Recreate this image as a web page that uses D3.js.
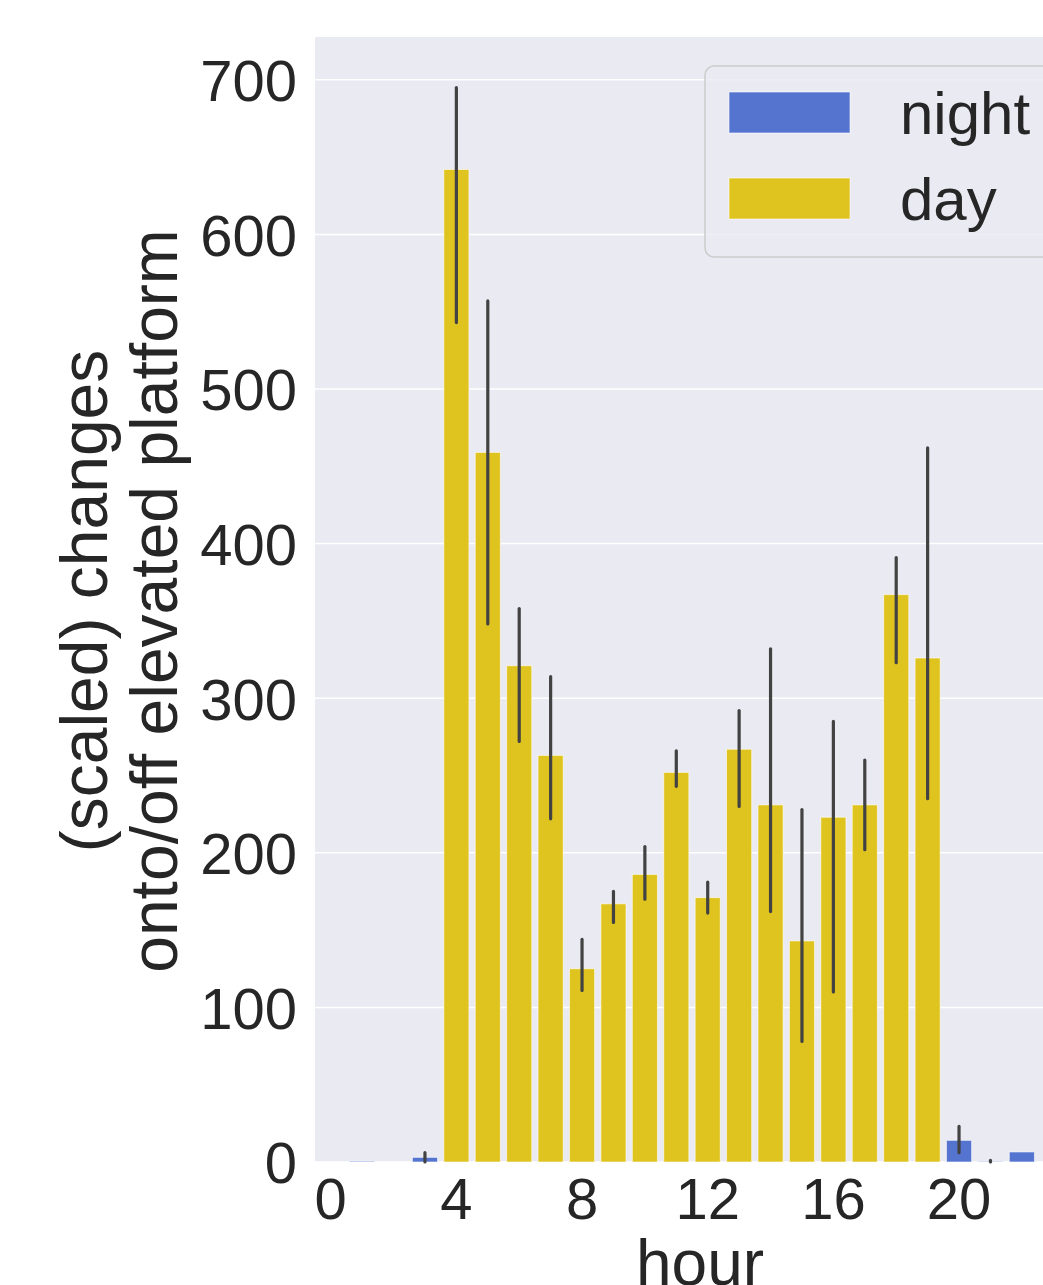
<!DOCTYPE html>
<html>
<head>
<meta charset="utf-8">
<script src="https://cdn.jsdelivr.net/npm/d3@7"></script>
<style>
  html, body { margin: 0; padding: 0; background: #fff; overflow: hidden; }
  text { font-family: "Liberation Sans", Arial, sans-serif; fill: #262626; }
</style>
</head>
<body>
<svg width="1043" height="1285"></svg>
<script>
// hourly mean changes, with 95% CI
const hours = d3.range(0, 24);
const period = ['night','night','night','night','day','day','day','day','day','day','day','day',
                'day','day','day','day','day','day','day','day','night','night','night','night'];
const values = [0, 0.5, 0, 3, 642, 459, 321, 263, 125, 167, 186, 252,
                171, 267, 231, 143, 223, 231, 367, 326, 14, 0.3, 6.5, 0];
const errLow = [null, null, null, 0, 543, 348, 272, 222, 111, 155, 170, 243,
                161, 230, 162, 78, 110, 202, 323, 235, 6, 0, null, null];
const errHigh = [null, null, null, 6, 695, 557, 358, 314, 144, 175, 204, 266,
                 181, 292, 332, 228, 285, 260, 391, 462, 23, 1, null, null];
const yTicks = [0, 100, 200, 300, 400, 500, 600, 700];
const xTicks = [0, 4, 8, 12, 16, 20];
const legendNames = ['night', 'day'];

const colors = { night: '#5474cf', day: '#dfc31f' };

const svg = d3.select('svg');

const plotL = 315, plotR = 1069, plotT = 37, plotB = 1162;

const x = d3.scaleBand().domain(hours).range([plotL, plotR]).paddingInner(0.2).paddingOuter(0.1);
const y = d3.scaleLinear().domain([0, 727.7]).range([plotB, plotT]);

// background
svg.append('rect')
  .attr('x', plotL).attr('y', plotT)
  .attr('width', plotR - plotL).attr('height', plotB - plotT)
  .attr('fill', '#eaeaf2');

// grid lines
svg.selectAll('.grid')
  .data(yTicks)
  .enter()
  .append('line')
  .attr('x1', plotL).attr('x2', plotR)
  .attr('y1', d => y(d)).attr('y2', d => y(d))
  .attr('stroke', '#fff')
  .attr('stroke-width', 1.5);

// bars
svg.selectAll('.bar')
  .data(hours)
  .enter()
  .append('rect')
  .attr('x', d => x(d))
  .attr('width', x.bandwidth())
  .attr('y', d => y(values[d]))
  .attr('height', d => y(0) - y(values[d]))
  .attr('fill', d => colors[period[d]])
  .attr('stroke', '#fff')
  .attr('stroke-opacity', 0.6)
  .attr('stroke-width', 1);

// error bars
svg.selectAll('.err')
  .data(hours.filter(h => errLow[h] !== null))
  .enter()
  .append('line')
  .attr('x1', d => x(d) + x.bandwidth() / 2)
  .attr('x2', d => x(d) + x.bandwidth() / 2)
  .attr('y1', d => y(errLow[d]))
  .attr('y2', d => y(errHigh[d]))
  .attr('stroke', '#424242')
  .attr('stroke-width', 3.2)
  .attr('stroke-linecap', 'round');

// y axis
const yAxis = svg.append('g')
  .attr('transform', `translate(${plotL},0)`)
  .call(d3.axisLeft(y).tickValues(yTicks).tickSize(0).tickPadding(18));
yAxis.select('.domain').remove();
yAxis.selectAll('text')
  .attr('font-size', 58)
  .attr('fill', '#262626')
  .attr('dy', '0.36em');

// x axis
const xAxis = svg.append('g')
  .attr('transform', `translate(0,${plotB})`)
  .call(d3.axisBottom(x).tickValues(xTicks).tickSize(0).tickPadding(16));
xAxis.select('.domain').remove();
xAxis.selectAll('text')
  .attr('font-size', 58)
  .attr('fill', '#262626')
  .attr('dy', '0.71em');

// axis labels
svg.append('text')
  .attr('x', 700)
  .attr('y', 1285)
  .attr('text-anchor', 'middle')
  .attr('font-size', 64)
  .text('hour');

const yl = svg.append('text')
  .attr('transform', 'translate(142,601) rotate(-90)')
  .attr('text-anchor', 'middle')
  .attr('font-size', 66);
yl.append('tspan').attr('x', 0).attr('y', -35).text('(scaled) changes');
yl.append('tspan').attr('x', 0).attr('y', 35).text('onto/off elevated platform');

// legend
const lg = svg.append('g');
lg.append('rect')
  .attr('x', 705).attr('y', 66)
  .attr('width', 380).attr('height', 191)
  .attr('rx', 9)
  .attr('fill', '#eaeaf2')
  .attr('fill-opacity', 0.8)
  .attr('stroke', '#cccccc')
  .attr('stroke-width', 1.5);

lg.selectAll('.sw')
  .data(legendNames)
  .enter()
  .append('rect')
  .attr('x', 729)
  .attr('y', (d, i) => 92 + i * 86)
  .attr('width', 121)
  .attr('height', 41)
  .attr('fill', d => colors[d])
  .attr('stroke', '#fff')
  .attr('stroke-opacity', 0.6);

lg.selectAll('.lt')
  .data(legendNames)
  .enter()
  .append('text')
  .attr('x', 900)
  .attr('y', (d, i) => 134 + i * 86)
  .attr('font-size', 60)
  .text(d => d);
</script>
</body>
</html>
